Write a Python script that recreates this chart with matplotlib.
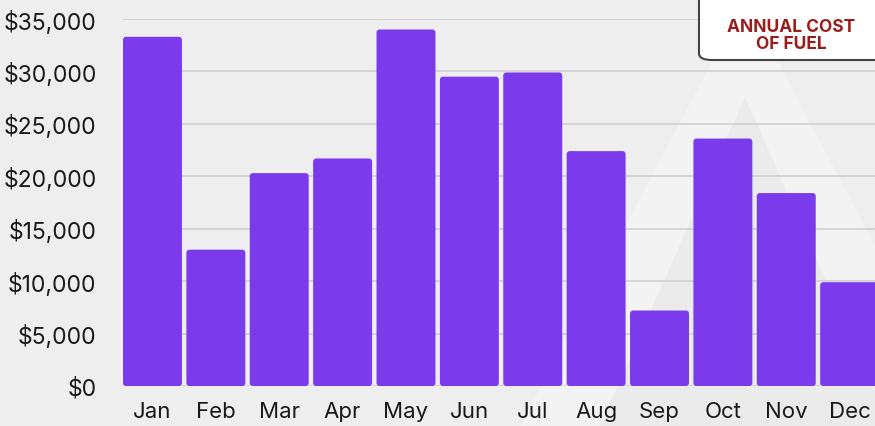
import matplotlib.pyplot as plt
from matplotlib.patches import FancyBboxPatch, Polygon
from matplotlib.ticker import FuncFormatter

months = ['Jan', 'Feb', 'Mar', 'Apr', 'May', 'Jun',
          'Jul', 'Aug', 'Sep', 'Oct', 'Nov', 'Dec']
fuel_cost = [33300, 13000, 20300, 21700, 34000, 29500,
             29900, 22400, 7200, 23600, 18400, 9900]
y_ticks = [0, 5000, 10000, 15000, 20000, 25000, 30000, 35000]
box_label = 'ANNUAL COST\nOF FUEL'

plt.rcParams['font.family'] = ['Inter', 'DejaVu Sans']

W, H = 875, 427
fig = plt.figure(figsize=(W / 100, H / 100), dpi=100)
fig.patch.set_facecolor('#eeeeee')

# faint background triangles, kept behind the axes
fig.patches.append(Polygon([(520 / W, 0), (745 / W, 1 - 0 / H), (970 / W, 0)],
                           closed=True, transform=fig.transFigure,
                           facecolor='#f3f3f3', edgecolor='none', zorder=-10))
fig.patches.append(Polygon([(600 / W, 0), (745 / W, 1 - 98 / H), (890 / W, 0)],
                           closed=True, transform=fig.transFigure,
                           facecolor='#ebebeb', edgecolor='none', zorder=-9))

ax = fig.add_axes([123 / W, 1 - 387 / H, (W - 123) / W, (387 - 20) / H])
ax.set_facecolor('none')

width = 0.93
x = range(len(months))
bars = ax.bar(x, fuel_cost, width=width, color='#7c3aed', zorder=3)

ax.set_xlim(-width / 2, 11.4)
ax.set_ylim(0, 35000)

# swap the plain rectangles for ones with slightly rounded corners
px_x = (ax.get_xlim()[1] - ax.get_xlim()[0]) / (W - 123)
px_y = 35000 / (387 - 20)
for b in bars:
    b.set_visible(False)
    ax.add_patch(FancyBboxPatch((b.get_x(), b.get_y()), b.get_width(), b.get_height(),
                                boxstyle=f'round,pad=0,rounding_size={3 * px_x}',
                                mutation_aspect=px_y / px_x,
                                facecolor='#7c3aed', edgecolor='none', zorder=3))

ax.set_yticks(y_ticks)
ax.yaxis.set_major_formatter(FuncFormatter(lambda v, p: f'${v:,.0f}'))
ax.set_xticks(list(x))
ax.set_xticklabels(months)
ax.tick_params(axis='both', length=0, labelsize=16, colors='#1a1a1a')
ax.tick_params(axis='y', labelsize=16.5, pad=19)
ax.tick_params(axis='x', pad=11)
ax.grid(axis='y', color='#cfcfcf', linewidth=1.2, zorder=0)
for s in ax.spines.values():
    s.set_visible(False)

# label box in the top right corner
box = FancyBboxPatch((699 / W, 1 - 61 / H), 190 / W, 80 / H,
                     boxstyle='round,pad=0,rounding_size=0.015',
                     transform=fig.transFigure, facecolor='white',
                     edgecolor='#444444', linewidth=1.5, zorder=5)
fig.patches.append(box)
fig.text(791 / W, 1 - 36 / H, box_label, ha='center', va='center',
         color='#9b1c1c', fontsize=12.5, fontweight='bold', linespacing=1.0,
         zorder=6)

fig.savefig('out.png', dpi=100, facecolor=fig.get_facecolor())
